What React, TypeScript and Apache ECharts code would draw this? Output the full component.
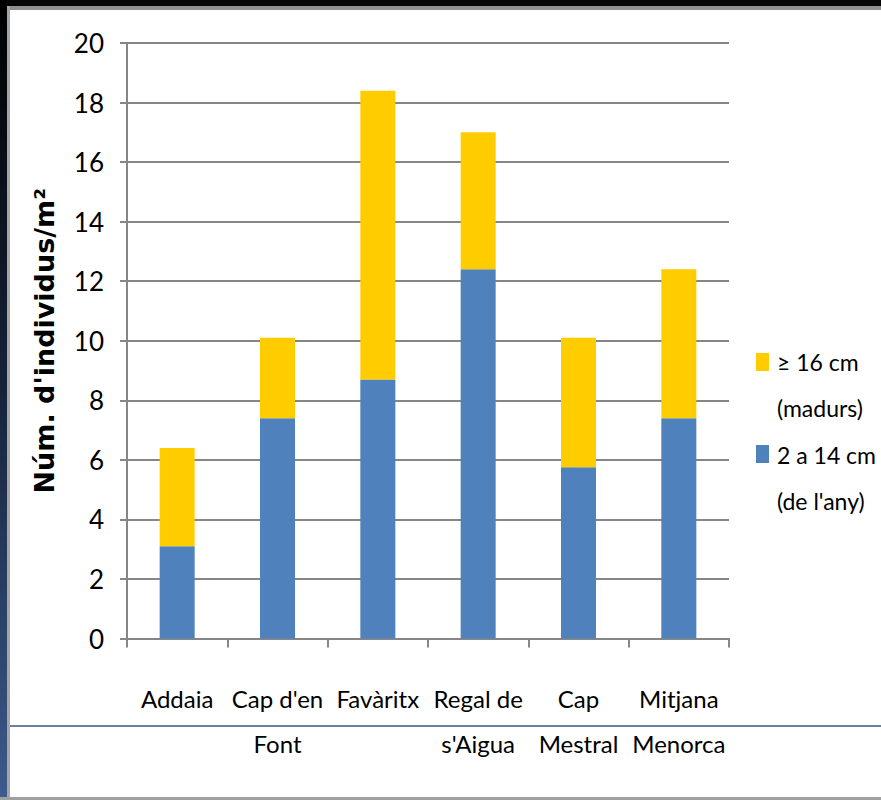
import React, { useEffect, useRef } from "react";
import * as echarts from "echarts";

const categories = [
  "Addaia",
  "Cap d'en\nFont",
  "Favàritx",
  "Regal de\ns'Aigua",
  "Cap\nMestral",
  "Mitjana\nMenorca",
];
const seriesNames = ["2 a 14 cm (de l'any)", "≥ 16 cm (madurs)"];
const legendLabels = ["≥ 16 cm\n(madurs)", "2 a 14 cm\n(de l'any)"];
const juvenils = [3.1, 7.4, 8.7, 12.4, 5.75, 7.4];
const madurs = [3.3, 2.7, 9.7, 4.6, 4.35, 5.0];
const yTicks = { min: 0, max: 20, interval: 2 };
const yAxisName = "Núm. d'individus/m²";

const BLUE = "#4F81BD";
const YELLOW = "#FFCC00";
const GRID = "#868686";
const FONT = "Lato, 'Liberation Sans', sans-serif";

export default function App() {
  const ref = useRef<HTMLDivElement>(null);
  useEffect(() => {
    if (!ref.current) return;
    const chart = echarts.init(ref.current, undefined, { renderer: "svg" });
    chart.setOption({
      animation: false,
      backgroundColor: "#ffffff",
      grid: { left: 127, right: 152, top: 43, bottom: 161.5, containLabel: false },
      xAxis: {
        type: "category",
        data: categories,
        axisLine: { show: true, lineStyle: { color: GRID, width: 2 } },
        axisTick: { show: true, length: 9, interval: 0, lineStyle: { color: GRID, width: 2 } },
        axisLabel: {
          interval: 0,
          color: "#000",
          fontFamily: FONT,
          fontSize: 24,
          lineHeight: 45,
          margin: 37,
        },
      },
      yAxis: {
        type: "value",
        min: yTicks.min,
        max: yTicks.max,
        interval: yTicks.interval,
        name: yAxisName,
        nameLocation: "middle",
        nameGap: 69,
        nameTextStyle: {
          fontFamily: "'DejaVu Sans', sans-serif",
          fontWeight: "bold",
          fontSize: 27,
          color: "#000",
        },
        axisLine: { show: true, lineStyle: { color: GRID, width: 2 } },
        axisTick: { show: true, length: 7, lineStyle: { color: GRID, width: 2 } },
        splitLine: { show: true, lineStyle: { color: GRID, width: 2 } },
        axisLabel: {
          color: "#000",
          fontFamily: FONT,
          fontSize: 26,
          margin: 23,
        },
      },
      series: [
        {
          name: seriesNames[0],
          type: "bar",
          stack: "total",
          barWidth: 35,
          data: juvenils,
          itemStyle: { color: BLUE },
        },
        {
          name: seriesNames[1],
          type: "bar",
          stack: "total",
          barWidth: 35,
          data: madurs,
          itemStyle: { color: YELLOW },
        },
      ],
      graphic: [
        {
          type: "rect",
          left: 0,
          top: 0,
          shape: { width: 881, height: 6 },
          style: { fill: "#050505" },
          silent: true,
        },
        {
          type: "rect",
          left: 0,
          top: 6,
          shape: { width: 881, height: 4 },
          style: { fill: "#8f8f8f" },
          silent: true,
        },
        {
          type: "rect",
          left: 0,
          top: 0,
          shape: { width: 7, height: 800 },
          style: {
            fill: new echarts.graphic.LinearGradient(0, 0, 0, 1, [
              { offset: 0, color: "#000000" },
              { offset: 0.5, color: "#16243c" },
              { offset: 1, color: "#3d5b8c" },
            ]),
          },
          silent: true,
        },
        {
          type: "rect",
          left: 7,
          top: 6,
          shape: { width: 3, height: 794 },
          style: { fill: "#a5a5a5" },
          silent: true,
        },
        {
          type: "rect",
          left: 0,
          top: 797,
          shape: { width: 881, height: 3 },
          style: { fill: "#a0a0a0" },
          silent: true,
        },
        {
          type: "line",
          shape: { x1: 10, y1: 726, x2: 881, y2: 726 },
          style: { stroke: "#3b5583", lineWidth: 1.5 },
          silent: true,
        },
        {
          type: "rect",
          left: 756,
          top: 353,
          shape: { width: 13, height: 18 },
          style: { fill: YELLOW },
          silent: true,
        },
        {
          type: "text",
          left: 777,
          top: 339,
          style: {
            text: legendLabels[0],
            font: "23px " + FONT,
            lineHeight: 46,
            fill: "#000",
          },
          silent: true,
        },
        {
          type: "rect",
          left: 756,
          top: 445,
          shape: { width: 13, height: 18 },
          style: { fill: BLUE },
          silent: true,
        },
        {
          type: "text",
          left: 777,
          top: 432,
          style: {
            text: legendLabels[1],
            font: "23px " + FONT,
            lineHeight: 46,
            fill: "#000",
          },
          silent: true,
        },
      ],
    });
    return () => chart.dispose();
  }, []);
  return (
    <div
      ref={ref}
      style={{ position: "fixed", left: 0, top: 0, width: 881, height: 800 }}
    />
  );
}
